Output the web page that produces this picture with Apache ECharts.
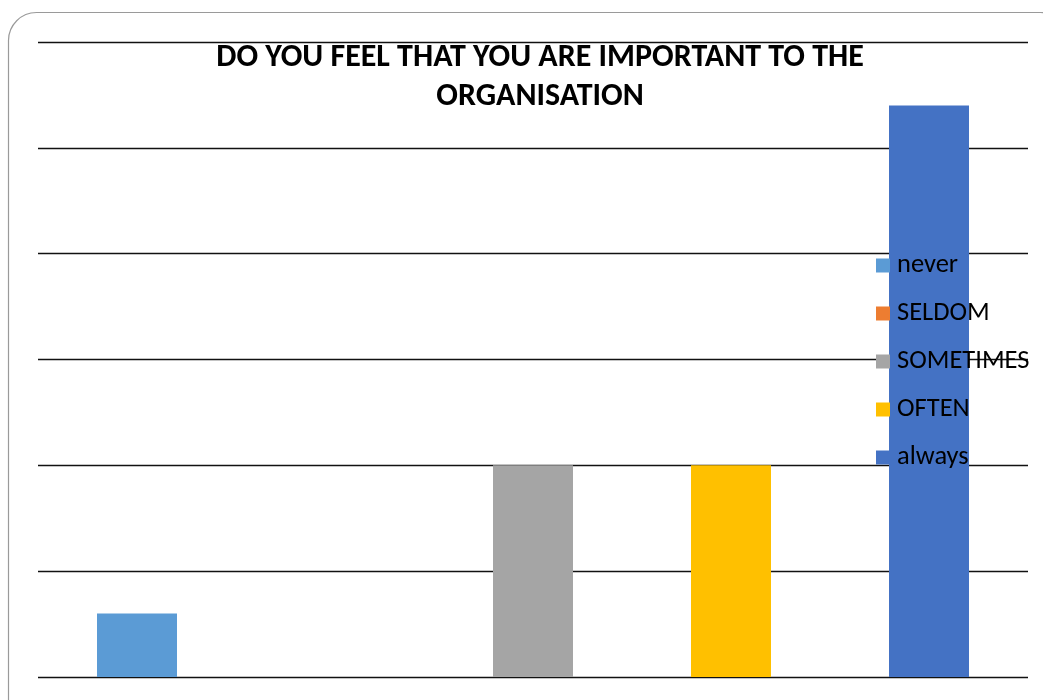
<!DOCTYPE html>
<html>
<head>
<meta charset="utf-8">
<title>Importance to the organisation</title>
<script src="https://cdn.jsdelivr.net/npm/echarts@6/dist/echarts.min.js"></script>
<style>
  html, body { margin: 0; padding: 0; background: #fff; }
  #chart { width: 1043px; height: 700px; }
</style>
</head>
<body>
<div id="chart"></div>
<script>
// Survey answers
const categories = ['never', 'SELDOM', 'SOMETIMES', 'OFTEN', 'always'];
const responses = [3, 0, 10, 10, 27];
const colors = ['#5B9BD5', '#ED7D31', '#A5A5A5', '#FFC000', '#4472C4'];
const titleText = 'DO YOU FEEL THAT YOU ARE IMPORTANT TO THE\nORGANISATION';

const font = 'Carlito, Lato, "Open Sans", sans-serif';

// One series per answer so each gets its own legend entry; stacking keeps bars centred on their slot
const series = categories.map((name, i) => ({
  name: name,
  type: 'bar',
  stack: 'answers',
  barWidth: 80,
  itemStyle: { color: colors[i] },
  data: categories.map((_, j) => (j === i ? responses[i] : '-'))
}));

const chart = echarts.init(document.getElementById('chart'));
chart.setOption({
  animation: false,
  graphic: [{
    type: 'rect',
    z: -10,
    shape: { x: 8.5, y: 12.5, width: 1060, height: 720, r: 28 },
    style: { fill: '#fff', stroke: '#9a9a9a', lineWidth: 1.2 }
  }],
  title: {
    text: titleText,
    left: 535,
    textAlign: 'center',
    top: 33,
    textStyle: { fontFamily: font, fontWeight: 'bold', fontSize: 32, lineHeight: 39, color: '#000' }
  },
  legend: {
    orient: 'vertical',
    left: 871,
    top: 247,
    icon: 'rect',
    itemWidth: 14,
    itemHeight: 14,
    itemGap: 21,
    textStyle: { fontFamily: font, fontSize: 26.5, lineHeight: 26, color: '#000', padding: [0, 0, 0, 2] },
    data: categories
  },
  grid: { left: 38, right: 15, top: 42, bottom: 23, containLabel: false },
  xAxis: {
    type: 'category',
    data: categories,
    axisLine: { show: false },
    axisTick: { show: false },
    axisLabel: { show: false }
  },
  yAxis: {
    type: 'value',
    min: 0,
    max: 30,
    interval: 5,
    axisLabel: { show: false },
    axisLine: { show: false },
    axisTick: { show: false },
    splitLine: { lineStyle: { color: '#111', width: 1.3 } }
  },
  series: series
});
</script>
</body>
</html>
